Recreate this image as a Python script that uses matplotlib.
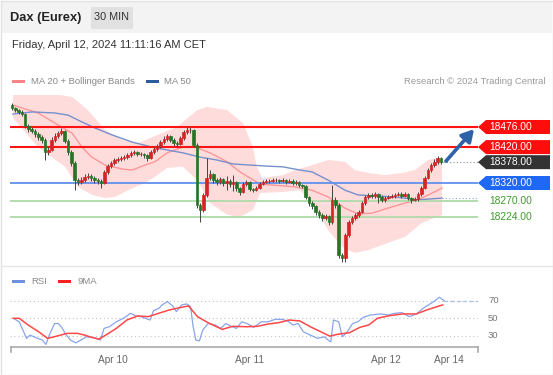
import matplotlib
matplotlib.use("Agg")
import matplotlib.pyplot as plt
from matplotlib.patches import Rectangle, Polygon
import numpy as np

plt.rcParams['font.family'] = ['Liberation Sans', 'DejaVu Sans']

W, H = 553, 375

title = "Dax (Eurex)"
timeframe = "30 MIN"
timestamp = "Friday, April 12, 2024 11:11:16 AM CET"
credit = "Research \u00a9 2024 Trading Central"
legend_main = ["MA 20 + Bollinger Bands", "MA 50"]
legend_rsi = ["RSI", "9MA"]

# ---- 30-minute candles (index = bar number) ----
opens = [18537, 18529, 18523, 18518, 18512, 18479, 18470, 18465, 18457, 18448,
         18440, 18406, 18412, 18440, 18451, 18459, 18465, 18437, 18406, 18376,
         18328, 18323, 18328, 18337, 18340, 18334, 18328, 18326, 18320, 18351,
         18367, 18376, 18384, 18387, 18390, 18392, 18398, 18404, 18406, 18401,
         18401, 18398, 18390, 18406, 18415, 18423, 18434, 18443, 18451, 18440,
         18431, 18429, 18445, 18462, 18468, 18468, 18426, 18259, 18245, 18287,
         18334, 18345, 18328, 18323, 18331, 18320, 18326, 18317, 18323, 18306,
         18295, 18317, 18323, 18303, 18300, 18306, 18317, 18323, 18326, 18326,
         18328, 18328, 18326, 18328, 18323, 18326, 18320, 18323, 18314, 18312,
         18281, 18264, 18256, 18239, 18231, 18222, 18228, 18211, 18273, 18259,
         18119, 18111, 18175, 18211, 18222, 18231, 18239, 18264, 18281, 18287,
         18284, 18289, 18281, 18273, 18278, 18281, 18284, 18287, 18289, 18284,
         18289, 18278, 18273, 18275, 18289, 18306, 18334, 18356, 18370, 18379,
         18390]
highs = [18543, 18533, 18527, 18522, 18515, 18484, 18476, 18470, 18462, 18453,
         18445, 18420, 18448, 18459, 18465, 18473, 18468, 18442, 18412, 18381,
         18334, 18337, 18345, 18348, 18345, 18340, 18334, 18331, 18356, 18373,
         18381, 18390, 18392, 18395, 18398, 18404, 18409, 18412, 18409, 18406,
         18404, 18401, 18412, 18420, 18429, 18440, 18451, 18457, 18454, 18445,
         18437, 18451, 18468, 18476, 18476, 18470, 18431, 18264, 18292, 18390,
         18356, 18348, 18334, 18337, 18334, 18340, 18331, 18342, 18326, 18309,
         18323, 18328, 18326, 18306, 18312, 18323, 18328, 18331, 18331, 18334,
         18334, 18331, 18334, 18331, 18331, 18331, 18328, 18326, 18317, 18315,
         18284, 18270, 18259, 18245, 18236, 18234, 18231, 18314, 18281, 18264,
         18125, 18181, 18217, 18228, 18236, 18245, 18270, 18287, 18292, 18292,
         18295, 18292, 18287, 18284, 18287, 18289, 18292, 18295, 18295, 18295,
         18292, 18281, 18281, 18295, 18312, 18340, 18362, 18376, 18387, 18395,
         18392]
lows = [18524, 18518, 18512, 18506, 18473, 18462, 18459, 18448, 18440, 18431,
        18384, 18398, 18409, 18434, 18445, 18454, 18431, 18398, 18367, 18300,
        18315, 18317, 18323, 18331, 18326, 18320, 18317, 18306, 18317, 18345,
        18362, 18370, 18378, 18381, 18384, 18387, 18392, 18398, 18395, 18395,
        18390, 18381, 18387, 18401, 18409, 18417, 18429, 18437, 18434, 18423,
        18420, 18426, 18440, 18457, 18459, 18420, 18250, 18211, 18239, 18281,
        18328, 18320, 18315, 18317, 18312, 18300, 18309, 18298, 18298, 18287,
        18292, 18312, 18298, 18295, 18298, 18303, 18314, 18320, 18320, 18323,
        18323, 18320, 18323, 18317, 18320, 18315, 18314, 18309, 18306, 18275,
        18256, 18248, 18231, 18222, 18214, 18217, 18203, 18206, 18250, 18111,
        18100, 18100, 18170, 18206, 18217, 18225, 18236, 18259, 18275, 18278,
        18278, 18264, 18267, 18267, 18275, 18278, 18278, 18284, 18278, 18281,
        18273, 18264, 18270, 18270, 18284, 18303, 18331, 18351, 18365, 18373,
        18373]
closes = [18529, 18523, 18518, 18512, 18479, 18470, 18465, 18457, 18448, 18440,
          18406, 18412, 18440, 18451, 18459, 18465, 18437, 18406, 18376, 18328,
          18323, 18328, 18337, 18340, 18334, 18328, 18326, 18320, 18351, 18367,
          18376, 18384, 18387, 18390, 18392, 18398, 18404, 18406, 18401, 18401,
          18398, 18390, 18406, 18415, 18423, 18434, 18443, 18451, 18440, 18431,
          18429, 18445, 18462, 18468, 18468, 18426, 18259, 18245, 18287, 18334,
          18345, 18328, 18323, 18331, 18320, 18326, 18317, 18323, 18306, 18295,
          18317, 18323, 18303, 18300, 18306, 18317, 18323, 18326, 18326, 18328,
          18328, 18326, 18328, 18323, 18326, 18320, 18323, 18314, 18312, 18281,
          18264, 18256, 18239, 18231, 18222, 18228, 18211, 18273, 18259, 18119,
          18111, 18175, 18211, 18222, 18231, 18239, 18264, 18281, 18287, 18284,
          18289, 18281, 18273, 18278, 18281, 18284, 18287, 18289, 18284, 18289,
          18278, 18273, 18275, 18289, 18306, 18334, 18356, 18370, 18379, 18390,
          18378]

# ---- overlays (bar index, price) ----
ma50_x = [0.3, 6.1, 13.0, 17.0, 21.2, 25.2, 30.3, 36.4, 42.4, 47.0, 51.8, 57.0, 62.1,
          67.0, 72.1, 77.3, 82.1, 87.3, 90.9, 95.8, 100.9, 104.8, 109.1, 116.1, 123.0, 130.3]
ma50 = [18512, 18518, 18515, 18509, 18490, 18473, 18454, 18434, 18420, 18412, 18404, 18392, 18384,
        18373, 18370, 18367, 18365, 18356, 18351, 18328, 18300, 18287, 18284, 18281, 18273, 18278]

ma20_x = [0.3, 7.9, 13.0, 18.2, 21.2, 24.2, 28.2, 33.3, 36.4, 40.3, 43.3, 47.0, 51.8, 55.5, 60.0,
          65.2, 69.1, 72.1, 75.2, 82.1, 85.8, 90.9, 95.8, 100.9, 104.8, 109.1, 113.9, 119.1,
          123.0, 127.3, 130.3]
ma20 = [18537, 18515, 18487, 18459, 18420, 18392, 18370, 18359, 18356, 18370, 18379, 18404, 18420,
        18420, 18404, 18379, 18351, 18334, 18317, 18312, 18309, 18300, 18281, 18250, 18234, 18236,
        18250, 18264, 18273, 18292, 18306]

bbu_x = [0.3, 10.0, 18.2, 23.0, 28.2, 33.3, 38.2, 41.8, 50.0, 56.1, 59.1, 65.2, 70.0, 73.0, 74.2,
         75.8, 82.1, 85.8, 90.9, 95.8, 100.9, 103.9, 107.9, 113.0, 118.2, 122.1, 126.1, 130.3]
bbu = [18571, 18571, 18560, 18523, 18468, 18440, 18431, 18445, 18476, 18523, 18532, 18523, 18487,
       18420, 18365, 18334, 18342, 18356, 18370, 18384, 18379, 18356, 18348, 18342, 18348, 18356,
       18384, 18392]
bbl_x = [0.3, 7.9, 16.1, 20.0, 24.2, 28.2, 31.2, 35.2, 40.3, 43.3, 47.0, 51.8, 56.1, 60.0, 65.2,
         69.1, 73.0, 75.2, 82.1, 87.3, 90.9, 95.8, 100.0, 103.9, 107.9, 113.9, 119.1, 124.2, 130.3]
bbl = [18501, 18420, 18365, 18309, 18287, 18278, 18281, 18300, 18320, 18337, 18362, 18365, 18328,
       18264, 18232, 18225, 18245, 18292, 18295, 18300, 18264, 18189, 18142, 18125, 18133, 18153,
       18170, 18209, 18231]

# ---- key levels ----
resistances = [18476, 18420]
last_price = 18378
pivot = 18320
supports = [18270, 18224]
arrow_from = (131.5, 18381)
arrow_to = (140.0, 18470)

# ---- RSI panel ----
rsi_x = [0.4, 2.2, 3.3, 4.4, 5.5, 7.1, 9.2, 10.3, 11.3, 12.9, 14.0, 15.1, 16.1, 17.7, 19.3, 20.9,
         22.5, 24.7, 26.8, 27.9, 29.5, 31.6, 33.8, 35.9, 37.5, 39.1, 41.8, 42.9, 44.5, 45.5, 47.1,
         48.7, 49.8, 51.4, 53.0, 54.1, 54.9, 55.7, 56.8, 57.8, 59.4, 61.6, 63.2, 64.8, 66.4, 68.0,
         69.6, 71.2, 73.3, 75.5, 77.6, 79.7, 81.9, 83.5, 85.1, 86.7, 88.3, 90.4, 92.6, 94.7, 95.8,
         96.6, 97.4, 99.0, 100.1, 101.6, 103.2, 104.8, 106.5, 108.6, 111.8, 113.9, 116.1, 118.2,
         120.4, 122.5, 124.6, 126.2, 127.8, 129.5, 131.0]
rsi = [50, 46, 36.5, 27, 30.7, 28, 25, 20, 30.7, 44, 44, 39.6, 32.7, 25, 21.8, 25, 28.7, 28, 25,
       38.4, 40.3, 46, 50, 55.8, 52.7, 51.9, 48, 58.8, 61.5, 65.4, 69.2, 64.2, 57.6, 65.4, 66.5,
       63.4, 40.3, 25, 24.1, 36.5, 44, 42.3, 38.4, 44, 40.8, 38.4, 46, 44, 39.6, 46, 46, 48.8, 48.8,
       47, 42.3, 44, 34.5, 30.7, 27, 28.7, 25, 23, 48, 46, 28.7, 34.5, 44, 46, 51.2, 53.8, 55,
       53.8, 55.8, 56.5, 51.9, 55, 61.5, 65.4, 69.2, 74.2, 70]
rsi_ma_x = [0.4, 2.2, 4.9, 8.1, 10.8, 13.5, 16.7, 19.9, 22.0, 24.2, 26.3, 28.4, 31.6, 34.8, 38.1,
            41.3, 44.5, 47.7, 50.9, 53.5, 56.2, 59.4, 63.7, 66.9, 71.2, 74.4, 77.6, 80.8, 84.0,
            87.2, 90.4, 93.6, 96.3, 99.0, 102.2, 105.4, 108.1, 110.7, 113.9, 118.2, 122.5, 125.7,
            130.5]
rsi_ma = [50, 50, 42.3, 34.5, 26.9, 29.5, 32.7, 32.7, 30.7, 28, 26.1, 30.7, 38.4, 48, 52.7, 51.9,
          55.8, 59.6, 62.3, 64.2, 51.9, 45, 37.3, 40.8, 40.3, 40.8, 43.4, 45, 48, 47, 40.3, 34.5,
          29.5, 31.9, 33.4, 39.6, 42.3, 50, 52.7, 55, 55, 59.6, 65.4]
rsi_levels = [30, 50, 70]

date_ticks = [30.6, 72.0, 113.3, 132.4]
date_labels = ["Apr 10", "Apr 11", "Apr 12", "Apr 14"]

# ================= drawing =================
fig = plt.figure(figsize=(W / 100, H / 100), dpi=100)
fig.patch.set_facecolor('white')


def frac(x0, y0, x1, y1):
    return [x0 / W, 1 - y1 / H, (x1 - x0) / W, (y1 - y0) / H]


XLIM = (-0.6, 141.2)

ax = fig.add_axes(frac(10, 95, 478, 265))
ax.set_xlim(*XLIM)
ax.set_ylim(18091.6, 18565.1)
ax.axis('off')

ax.fill(np.r_[bbu_x, bbl_x[::-1]], np.r_[bbu, bbl[::-1]], color='#ffdcdc', lw=0, zorder=1)
ax.plot(ma20_x, ma20, color='#ff9696', lw=1.0, zorder=2)
ax.plot(ma50_x, ma50, color='#7590cc', lw=1.0, zorder=2)
for lv in resistances:
    ax.axhline(lv, color='#ff1414', lw=1.5, zorder=3)
ax.axhline(pivot, color='#6090ee', lw=1.3, zorder=3)
for lv in supports:
    ax.axhline(lv, color='#acdaa8', lw=1.3, zorder=3)

idx = np.arange(len(closes))
o = np.array(opens)
c = np.array(closes)
cols = np.where(c >= o, '#d42424', '#267526')
ax.vlines(idx, lows, highs, color='#444444', lw=0.7, zorder=4)
ax.bar(idx, c - o, bottom=o, width=0.78, color=cols, edgecolor=cols, lw=0.5, zorder=5)

ax.plot([idx[-1] + 0.6, XLIM[1]], [last_price, last_price], color='#888888', lw=0.8,
        ls=(0, (1, 2)), zorder=3, clip_on=False)
ax.plot([ma50_x[-1], XLIM[1]], [ma50[-1], ma50[-1]], color='#8ea5d8', lw=0.8,
        ls=(0, (1, 2)), zorder=3, clip_on=False)
ax.annotate('', xy=arrow_to, xytext=arrow_from, annotation_clip=False,
            arrowprops=dict(arrowstyle='-|>,head_length=0.7,head_width=0.4', color='#2e62a8',
                            lw=2.6, shrinkA=0, shrinkB=0), zorder=6)

rx = fig.add_axes(frac(10, 290, 478, 347.3))
rx.set_xlim(*XLIM)
rx.set_ylim(16.7, 82.5)
rx.axis('off')
for g in rsi_levels:
    rx.axhline(g, color='#c4c4c4', lw=0.8, ls=(0, (1, 2.5)))
rx.plot(rsi_x, rsi, color='#88a5ea', lw=0.9)
rx.plot(rsi_ma_x, rsi_ma, color='#ff4848', lw=1.1)
rx.plot([rsi_x[-1], XLIM[1]], [rsi[-1], rsi[-1]], color='#a8bdf0', lw=0.9, ls=(0, (3, 2)))

# ---- overlay in pixel coordinates ----
ov = fig.add_axes([0, 0, 1, 1], zorder=-1)
ov.set_xlim(0, W)
ov.set_ylim(H, 0)
ov.axis('off')
ov.add_patch(Rectangle((1, 1), W - 2, 32, fc='#f3f3f3', ec='none'))
ov.add_patch(Rectangle((0.5, 0.5), W - 1, H - 1, fc='none', ec='#e2e2e2', lw=1))
ov.plot([1, W - 1], [266, 266], color='#e6e6e6', lw=1)

top = fig.add_axes([0, 0, 1, 1], zorder=20)
top.set_xlim(0, W)
top.set_ylim(H, 0)
top.axis('off')

top.text(10.5, 17.5, title, fontsize=9.3, fontweight='bold', color='#222222', va='center')
top.add_patch(Rectangle((91, 6.5), 42, 22, fc='#e1e1e1', ec='none'))
top.text(112, 17.5, timeframe, fontsize=7.8, color='#333333', va='center', ha='center')
top.text(12, 45, timestamp, fontsize=8, color='#333333', va='center')

top.add_patch(Rectangle((12, 79.5), 13, 3.5, fc='#ff8585', ec='none'))
top.text(31, 81.5, legend_main[0], fontsize=6.8, color='#888888', va='center')
top.add_patch(Rectangle((146, 79.5), 13, 3.5, fc='#2c5c9e', ec='none'))
top.text(164, 81.5, legend_main[1], fontsize=6.8, color='#888888', va='center')
top.text(545, 81.5, credit, fontsize=6.8, color='#9a9a9a', va='center', ha='right')

top.add_patch(Rectangle((12, 279.5), 13, 3.5, fc='#6f8fe0', ec='none'))
top.text(31, 281.5, legend_rsi[0], fontsize=6.8, color='#888888', va='center')
top.add_patch(Rectangle((58, 279.5), 13, 3.5, fc='#ff2020', ec='none'))
top.text(77, 281.5, legend_rsi[1], fontsize=6.8, color='#888888', va='center')


def py(axis, val):
    return H - axis.transData.transform((0, val))[1]


def px(axis, val):
    return axis.transData.transform((val, 0))[0]


def tag(level, face):
    y = py(ax, level)
    top.add_patch(Polygon([(478, y), (486, y - 7), (550, y - 7), (550, y + 7), (486, y + 7)],
                          closed=True, fc=face, ec='none'))
    top.text(489, y, f"{level:.2f}", fontsize=7.4, color='white', va='center', ha='left')


for lv in resistances:
    tag(lv, '#ff0d0d')
tag(last_price, '#333333')
tag(pivot, '#1f68f5')
for lv in supports:
    top.text(489, py(ax, lv), f"{lv:.2f}", fontsize=7.4, color='#3f9a2e', va='center', ha='left')

for g in rsi_levels:
    top.text(488, py(rx, g), str(g), fontsize=6.8, color='#777777', va='center', ha='left')

ybase = py(rx, 16.7)
top.plot([10.5, 478], [ybase, ybase], color='#aaaaaa', lw=1.2)
top.plot([10.5, 10.5], [ybase, ybase + 4.5], color='#aaaaaa', lw=1.2)
top.plot([478, 478], [ybase, ybase + 4.5], color='#aaaaaa', lw=1.2)
for t, lab in zip(date_ticks, date_labels):
    top.text(px(rx, t), 360, lab, fontsize=7.3, color='#666666', va='center', ha='center')

fig.savefig('out.png', dpi=100)
